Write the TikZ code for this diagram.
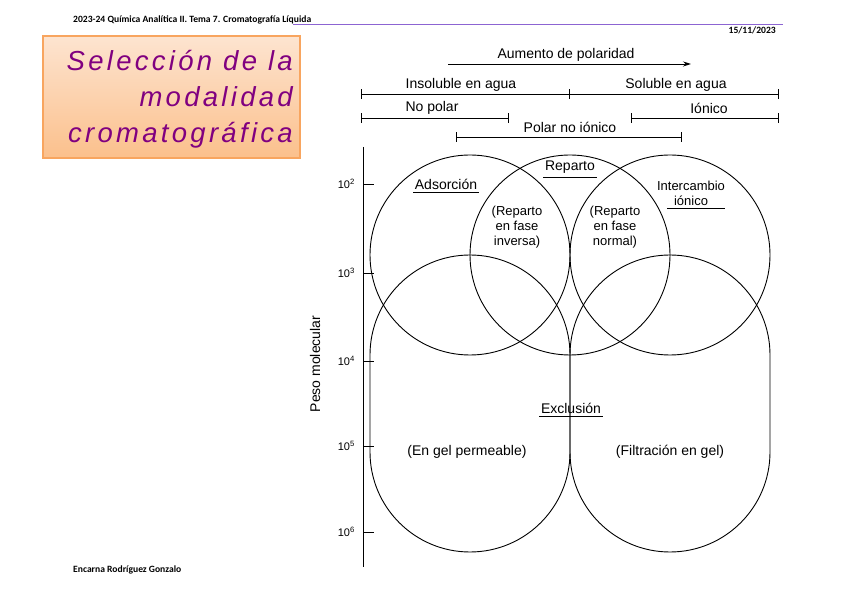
\documentclass[tikz,border=0pt]{standalone}
\usepackage{fontspec}
\setmainfont{Liberation Sans}
\newfontfamily\hdrfont{Carlito}
\newfontfamily\ttlfont[LetterSpace=12]{Liberation Sans}
\usetikzlibrary{arrows.meta}
\definecolor{ttlpurple}{RGB}{128,0,128}
\definecolor{hdrline}{RGB}{140,100,210}
\definecolor{boxedge}{RGB}{248,165,95}
\definecolor{boxtop}{RGB}{253,228,208}
\definecolor{boxbot}{RGB}{251,192,140}
\tikzset{
  ln/.style={line width=0.9pt, black},
  lbl/.style={font=\fontsize{14}{15}\selectfont, inner sep=1.5pt},
  small/.style={font=\fontsize{13}{15}\selectfont, align=center, inner sep=1pt},
  axl/.style={font=\fontsize{11}{12}\selectfont, anchor=east, inner sep=1pt},
  hdr/.style={font=\hdrfont\bfseries\fontsize{9.6}{11}\selectfont, inner sep=0pt},
  ttl/.style={font=\ttlfont\itshape\fontsize{27.5}{30}\selectfont, text=ttlpurple, anchor=base east, inner sep=0pt},
}
\begin{document}
\begin{tikzpicture}[x=1pt,y=1pt]
\useasboundingbox (0,0) rectangle (848,599);
\fill[white] (0,0) rectangle (848,599);
% header
\node[hdr, anchor=west] (hd) at (73,579) {2023-24 Química Analítica II. Tema 7. Cromatografía Líquida};
\coordinate (hl1) at (293,574);
\coordinate (hl2) at (783,574);
\draw[hdrline, line width=1pt] (hl1) -- (hl2);
\node[hdr, anchor=east] (date) at (776,569) {15/11/2023};
\node[hdr, anchor=west] (foot) at (73,29) {Encarna Rodríguez Gonzalo};
% title box
\shade[top color=boxtop, bottom color=boxbot] (43,441) rectangle (300,563);
\draw[boxedge, line width=1.2pt] (43,441) rectangle (300,563);
\node[ttl] (t1) at (293,528) {Selección de la};
\node[ttl] (t2) at (293,492) {modalidad};
\node[ttl] (t3) at (293,456) {cromatográfica};
% polarity arrow
\node[lbl] (aum) at (566,544) {Aumento de polaridad};
\coordinate (a1) at (448,535);
\coordinate (a2) at (691,535);
\draw[ln, -{Stealth[length=8pt,width=5pt]}] (a1) -- (a2);
% range 1
\coordinate (r1a) at (361,505);
\coordinate (r1b) at (569,505);
\coordinate (r1c) at (778,505);
\draw[ln] (r1a) -- (r1c);
\foreach \p in {r1a,r1b,r1c} \draw[ln] ([yshift=-5pt]\p) -- ([yshift=5pt]\p);
\node[lbl] (ins) at (461,514) {Insoluble en agua};
\node[lbl] (sol) at (676,514) {Soluble en agua};
% range 2
\coordinate (r2a) at (361,481);
\coordinate (r2b) at (508,481);
\coordinate (r2c) at (631,481);
\coordinate (r2d) at (778,481);
\draw[ln] (r2a) -- (r2b);
\draw[ln] (r2c) -- (r2d);
\foreach \p in {r2a,r2b,r2c,r2d} \draw[ln] ([yshift=-5pt]\p) -- ([yshift=5pt]\p);
\node[lbl] (nop) at (432,491) {No polar};
\node[lbl] (ion) at (709,491) {Iónico};
% range 3
\coordinate (r3a) at (456,462);
\coordinate (r3b) at (681,462);
\draw[ln] (r3a) -- (r3b);
\foreach \p in {r3a,r3b} \draw[ln] ([yshift=-5pt]\p) -- ([yshift=5pt]\p);
\node[lbl] (pni) at (570,472) {Polar no iónico};
% axis
\coordinate (ax1) at (363,452);
\coordinate (ax2) at (363,32);
\draw[ln] (ax1) -- (ax2);
\foreach \yy/\e/\nm in {415/2/e2,326/3/e3,238/4/e4,153/5/e5,67/6/e6}{
  \coordinate (\nm) at (363,\yy);
  \draw[ln] (\nm) -- ++(11,0);
  \node[axl] (l\nm) at (356,\yy) {10\textsuperscript{\e}};
}
\node[lbl, rotate=90] (peso) at (315,235) {Peso molecular};
% circles
\draw[ln] (470,344) circle[radius=100];
\draw[ln] (570,344) circle[radius=100];
\draw[ln] (670,344) circle[radius=100];
% exclusion lobes
\draw[ln] (370,244) arc[start angle=180, end angle=0, radius=100] -- (570,147) arc[start angle=0, end angle=-180, radius=100] -- cycle;
\draw[ln] (570,244) arc[start angle=180, end angle=0, radius=100] -- (770,147) arc[start angle=0, end angle=-180, radius=100] -- cycle;
% labels in regions
\node[lbl] (ads) at (446,415) {Adsorción};
\draw[ln] ([yshift=-2pt]ads.south west) -- ([yshift=-2pt]ads.south east);
\node[lbl] (rep) at (570,432) {Reparto};
\draw[ln] ([yshift=-2pt]rep.south west) -- ([yshift=-2pt]rep.south east);
\node[small] (int) at (691,406) {Intercambio\\iónico};
\draw[ln] ([xshift=-24pt,yshift=-2pt]int.south) -- ([xshift=34pt,yshift=-2pt]int.south);
\node[small] (rinv) at (517,372) {(Reparto\\en fase\\inversa)};
\node[small] (rnor) at (615,372) {(Reparto\\en fase\\normal)};
\node[lbl] (exc) at (571,191) {Exclusión};
\draw[ln] ([yshift=-2pt]exc.south west) -- ([yshift=-2pt]exc.south east);
\node[lbl] (egp) at (467,147) {(En gel permeable)};
\node[lbl] (fil) at (670,147) {(Filtración en gel)};
\end{tikzpicture}
\end{document}
